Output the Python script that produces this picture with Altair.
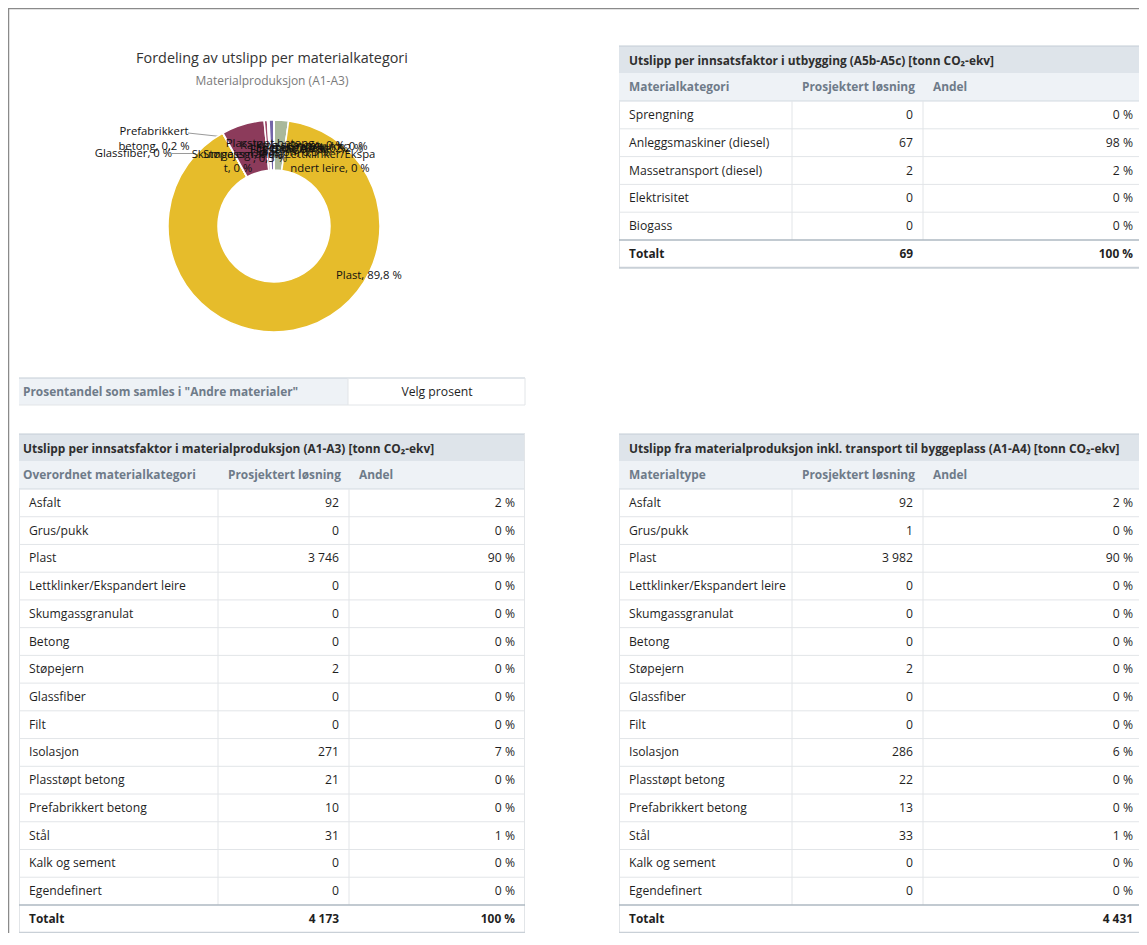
import altair as alt
import pandas as pd

# ---------------- data ----------------
a13_categories = ["Asfalt", "Grus/pukk", "Plast", "Lettklinker/Ekspandert leire",
                  "Skumgassgranulat", "Betong", "Støpejern", "Glassfiber", "Filt",
                  "Isolasjon", "Plasstøpt betong", "Prefabrikkert betong", "Stål",
                  "Kalk og sement", "Egendefinert"]
a13_values = [92, 0, 3746, 0, 0, 0, 2, 0, 0, 271, 21, 10, 31, 0, 0]
a13_andel = [2, 0, 90, 0, 0, 0, 0, 0, 0, 7, 0, 0, 1, 0, 0]
a13_total = 4173
a13_total_andel = 100

a14_values = [92, 1, 3982, 0, 0, 0, 2, 0, 0, 286, 22, 13, 33, 0, 0]
a14_andel = [2, 0, 90, 0, 0, 0, 0, 0, 0, 6, 0, 0, 1, 0, 0]
a14_total = 4431

a5_categories = ["Sprengning", "Anleggsmaskiner (diesel)", "Massetransport (diesel)",
                 "Elektrisitet", "Biogass"]
a5_values = [0, 67, 2, 0, 0]
a5_andel = [0, 98, 2, 0, 0]
a5_total = 69
a5_total_andel = 100

pie_title = "Fordeling av utslipp per materialkategori"
pie_subtitle = "Materialproduksjon (A1-A3)"

# ---------------- styling ----------------
FONT = "Open Sans"
BODY_FS = 12.2
BOLD_FS = 11.9
slice_colors = {
    "Asfalt": "#A9B89B", "Grus/pukk": "#C9C9C9", "Plast": "#E6BC2B",
    "Lettklinker/Ekspandert leire": "#BBBBBB", "Skumgassgranulat": "#BBBBBB",
    "Betong": "#999999", "Støpejern": "#555555", "Glassfiber": "#DDDDDD",
    "Filt": "#AAAAAA", "Isolasjon": "#8C3B5B", "Plasstøpt betong": "#9E4A6A",
    "Prefabrikkert betong": "#E9E4F0", "Stål": "#7465A8",
    "Kalk og sement": "#CCCCCC", "Egendefinert": "#CCCCCC",
}


def fmt_int(v):
    return f"{v:,}".replace(",", " ")


def fmt_pct1(p):
    s = f"{p:.1f}".replace(".", ",")
    if s.endswith(",0"):
        s = s[:-2]
    return s


rects, rules = [], []
texts = {k: [] for k in ["title", "head", "bodyL", "bodyR", "totL", "totR", "center"]}


def add_rect(x, x2, y, y2, fill):
    rects.append(dict(x=x, x2=x2, y=y, y2=y2, fill=fill))


def add_rule(x, x2, y, y2, color, w=1.0):
    rules.append(dict(x=x, x2=x2, y=y, y2=y2, stroke=color, w=w))


def add_text(style, x, y, t):
    texts[style].append(dict(x=x, y=y, text=t))


TB_FILL = "#DEE4EA"
HD_FILL = "#EEF2F6"
GRID = "#E2E5E8"
DARKLINE = "#AEB8C2"


def build_table(left, right, top, title, first_head, sep1, sep2, cats, vals, andels,
                tot_val, tot_andel, row_h, head_x, body_x, total_in_andel=False):
    title_h, head_h = 27, 28
    add_rect(left, right, top, top + title_h, TB_FILL)
    add_rule(left, right, top, top, "#C3CCD5", 1)
    add_text("title", head_x, top + title_h / 2 + 1, title)
    htop = top + title_h
    add_rect(left, right, htop, htop + head_h, HD_FILL)
    add_text("head", head_x, htop + head_h / 2, first_head)
    add_text("head", sep1 + 10, htop + head_h / 2, "Prosjektert løsning")
    add_text("head", sep2 + 10, htop + head_h / 2, "Andel")
    dtop = htop + head_h
    add_rule(left, right, dtop, dtop, "#D3DAE1", 1)
    n = len(cats)
    for i, (c, v, a) in enumerate(zip(cats, vals, andels)):
        y0 = dtop + i * row_h
        cy = y0 + row_h / 2
        if i > 0:
            add_rule(left, right, y0, y0, GRID, 1)
        add_text("bodyL", body_x, cy, c)
        add_text("bodyR", sep2 - 10, cy, fmt_int(v))
        add_text("bodyR", right - 10, cy, f"{a} %")
    ttop = dtop + n * row_h
    bottom = ttop + row_h
    add_rule(sep1, sep1, dtop, ttop, GRID, 1)
    add_rule(sep2, sep2, dtop, ttop, GRID, 1)
    add_rule(left + 0.5, left + 0.5, dtop, bottom, GRID, 1)
    add_rule(right - 0.5, right - 0.5, top, bottom, GRID, 1)
    add_rule(left, right, ttop, ttop, DARKLINE, 1.5)
    add_rule(left, right, bottom, bottom, "#C9D0D7", 2)
    add_text("totL", body_x, ttop + row_h / 2, "Totalt")
    if total_in_andel:
        add_text("totR", right - 10, ttop + row_h / 2, fmt_int(tot_val))
    else:
        add_text("totR", sep2 - 10, ttop + row_h / 2, fmt_int(tot_val))
        add_text("totR", right - 10, ttop + row_h / 2, f"{tot_andel} %")


# top-right table (A5b-A5c)
build_table(619, 1143, 46, "Utslipp per innsatsfaktor i utbygging (A5b-A5c) [tonn CO₂-ekv]",
            "Materialkategori", 792, 923, a5_categories, a5_values, a5_andel,
            a5_total, a5_total_andel, 27.8, 629, 629)
# bottom-left table (A1-A3)
build_table(19, 525, 434, "Utslipp per innsatsfaktor i materialproduksjon (A1-A3) [tonn CO₂-ekv]",
            "Overordnet materialkategori", 218, 349, a13_categories, a13_values, a13_andel,
            a13_total, a13_total_andel, 27.73, 23, 29)
# bottom-right table (A1-A4)
build_table(619, 1143, 434, "Utslipp fra materialproduksjon inkl. transport til byggeplass (A1-A4) [tonn CO₂-ekv]",
            "Materialtype", 792, 923, a13_categories, a14_values, a14_andel,
            a14_total, None, 27.73, 629, 629, total_in_andel=True)

# "Prosentandel" selector row
add_rect(19, 348, 378, 405, HD_FILL)
add_rule(19, 525, 378, 378, "#C3CCD5", 1)
add_rule(19, 525, 405, 405, GRID, 1)
add_rule(348, 348, 378, 405, GRID, 1)
add_rule(525, 525, 378, 405, GRID, 1)
add_text("head", 23, 392, 'Prosentandel som samles i "Andre materialer"')
add_text("center", 437, 392, "Velg prosent")

# outer frame of the screenshot
add_rule(8, 1139, 8.5, 8.5, "#8A8A8A", 1.5)
add_rule(8.5, 8.5, 8, 933, "#8A8A8A", 1.5)

# ---------------- pie data ----------------
pie_df = pd.DataFrame({
    "cat": a13_categories,
    "val": a13_values,
    "idx": list(range(len(a13_categories))),
})

pie_lab = {}
for c, v in zip(a13_categories, a13_values):
    pie_lab[c] = f"{c}, {fmt_pct1(v / a13_total * 100)} %"

pie_label_rows = []


def pie_label(cat, x, y, align, split=None):
    t = pie_lab[cat]
    if split is not None:
        lines = [t[:split], t[split:].strip()]
    else:
        lines = [t]
    pie_label_rows.append(dict(x=x, y=y, lines=lines, align=align))


pie_label("Plast", 336, 276, "left")
pie_label("Prefabrikkert betong", 154, 132, "center", 13)
pie_label("Glassfiber", 172, 154, "right")
pie_label("Lettklinker/Ekspandert leire", 330, 154.5, "center", 17)
pie_label("Skumgassgranulat", 238, 154.5, "center", 15)
pie_label("Plasstøpt betong", 270, 144, "center", 16)
pie_label("Støpejern", 203, 155, "left")
pie_label("Betong", 262, 148, "left")
pie_label("Filt", 250, 150, "left")
pie_label("Stål", 275, 150, "left")
pie_label("Isolasjon", 250, 153, "left")
pie_label("Asfalt", 300, 149, "left")
pie_label("Grus/pukk", 288, 147, "left")
pie_label("Kalk og sement", 240, 146, "left")
pie_label("Egendefinert", 256, 149, "left")

# connectors
add_rule(188, 230, 133, 137.5, "#9A9A9A", 1)
add_rule(172, 212, 153.5, 153.5, "#9A9A9A", 1)

# ---------------- chart ----------------
XS = alt.Scale(domain=[8, 1139], range=[0, 1131], nice=False, zero=False)
YS = alt.Scale(domain=[8, 933], range=[0, 925], nice=False, zero=False)


def X(f="x"):
    return alt.X(f"{f}:Q", scale=XS, axis=None)


def Y(f="y"):
    return alt.Y(f"{f}:Q", scale=YS, axis=None)


rect_layer = alt.Chart(pd.DataFrame(rects)).mark_rect().encode(
    x=X(), x2=alt.X2("x2:Q"), y=Y(), y2=alt.Y2("y2:Q"),
    fill=alt.Fill("fill:N", scale=None),
)

rule_layer = alt.Chart(pd.DataFrame(rules)).mark_rule().encode(
    x=X(), x2=alt.X2("x2:Q"), y=Y(), y2=alt.Y2("y2:Q"),
    stroke=alt.Stroke("stroke:N", scale=None),
    strokeWidth=alt.StrokeWidth("w:Q", scale=None),
)

arc_layer = alt.Chart(pie_df).mark_arc(
    outerRadius=106, innerRadius=56, stroke="white", strokeWidth=1.5
).encode(
    theta=alt.Theta("val:Q", stack=True),
    order=alt.Order("idx:Q"),
    color=alt.Color("cat:N", legend=None,
                    scale=alt.Scale(domain=a13_categories,
                                    range=[slice_colors[c] for c in a13_categories])),
    x=alt.value(274 - 8),
    y=alt.value(226 - 8),
)

styles = {
    "title": dict(fontWeight="bold", color="#2E2E2E", align="left", fontSize=BOLD_FS),
    "head": dict(fontWeight="bold", color="#6E7B89", align="left", fontSize=BOLD_FS),
    "bodyL": dict(fontWeight="normal", color="#1F1F1F", align="left", fontSize=BODY_FS),
    "bodyR": dict(fontWeight="normal", color="#1F1F1F", align="right", fontSize=BODY_FS),
    "totL": dict(fontWeight="bold", color="#1F1F1F", align="left", fontSize=BOLD_FS),
    "totR": dict(fontWeight="bold", color="#1F1F1F", align="right", fontSize=BOLD_FS),
    "center": dict(fontWeight="normal", color="#1F1F1F", align="center", fontSize=BODY_FS),
}

text_layers = []
for k, rows in texts.items():
    if not rows:
        continue
    text_layers.append(
        alt.Chart(pd.DataFrame(rows)).mark_text(
            font=FONT, baseline="middle", **styles[k]
        ).encode(x=X(), y=Y(), text="text:N")
    )

title_df = pd.DataFrame([dict(x=272, y=59, text=pie_title)])
sub_df = pd.DataFrame([dict(x=272, y=81, text=pie_subtitle)])
title_layer = alt.Chart(title_df).mark_text(
    font=FONT, fontSize=14.4, color="#333333", align="center", baseline="middle"
).encode(x=X(), y=Y(), text="text:N")
sub_layer = alt.Chart(sub_df).mark_text(
    font=FONT, fontSize=12, color="#7A7A7A", align="center", baseline="middle"
).encode(x=X(), y=Y(), text="text:N")

pie_text_layers = []
lab_df = pd.DataFrame(pie_label_rows)
for al in ["left", "center", "right"]:
    sub = lab_df[lab_df["align"] == al].drop(columns=["align"])
    if len(sub):
        pie_text_layers.append(
            alt.Chart(sub).mark_text(
                font=FONT, fontSize=11.3, color="#111111", align=al, baseline="middle",
                lineHeight=14.5
            ).encode(x=X(), y=Y(), text="lines:N")
        )

chart = alt.layer(
    rect_layer, rule_layer, arc_layer, title_layer, sub_layer,
    *pie_text_layers, *text_layers
).resolve_scale(
    color="independent", fill="independent", stroke="independent"
).properties(
    width=1131, height=925, padding=0, autosize=alt.AutoSizeParams(type="none")
).configure_view(stroke=None).configure(background="white")

chart.save("out.html", embed_options={"renderer": "svg", "actions": False})
